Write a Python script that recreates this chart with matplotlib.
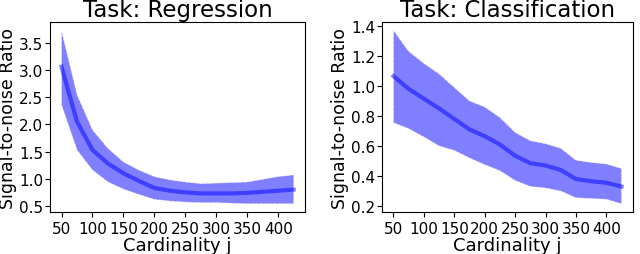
import matplotlib
matplotlib.use("Agg")
import matplotlib.pyplot as plt

# --------------------------------------------------
# data
# --------------------------------------------------
cardinality = [50, 75, 100, 125, 150, 175, 200, 225, 250, 275, 300, 325, 350, 375, 400, 425]

reg_mean = [3.06, 2.05, 1.53, 1.28, 1.10, 0.96, 0.83, 0.78, 0.75, 0.73, 0.73, 0.73, 0.74, 0.76, 0.78, 0.80]
reg_upper = [3.73, 2.55, 1.90, 1.56, 1.31, 1.16, 1.04, 0.98, 0.94, 0.91, 0.92, 0.93, 0.94, 0.99, 1.04, 1.07]
reg_lower = [2.36, 1.53, 1.16, 0.94, 0.81, 0.71, 0.62, 0.59, 0.57, 0.56, 0.56, 0.55, 0.54, 0.54, 0.54, 0.54]

cls_mean = [1.065, 0.98, 0.915, 0.85, 0.78, 0.71, 0.665, 0.61, 0.535, 0.485, 0.47, 0.44, 0.38, 0.365, 0.355, 0.33]
cls_upper = [1.37, 1.23, 1.15, 1.08, 0.99, 0.90, 0.86, 0.79, 0.69, 0.635, 0.615, 0.585, 0.505, 0.49, 0.48, 0.45]
cls_lower = [0.755, 0.715, 0.66, 0.60, 0.57, 0.52, 0.475, 0.435, 0.37, 0.33, 0.32, 0.30, 0.255, 0.25, 0.245, 0.215]

xticks = [50, 100, 150, 200, 250, 300, 350, 400]
reg_yticks = [0.5, 1.0, 1.5, 2.0, 2.5, 3.0, 3.5]
cls_yticks = [0.2, 0.4, 0.6, 0.8, 1.0, 1.2, 1.4]

panels = [
    ("Task: Regression", reg_mean, reg_lower, reg_upper, reg_yticks),
    ("Task: Classification", cls_mean, cls_lower, cls_upper, cls_yticks),
]

# --------------------------------------------------
# figure
# --------------------------------------------------
fig = plt.figure(figsize=(6.4, 2.55), dpi=100)

# axes boxes in figure fractions, plus y-label x position in axes fractions
rects = [[0.078, 0.163, 0.399, 0.748], [0.597, 0.163, 0.392, 0.748]]
ylabel_x = [-0.128, -0.132]

for rect, lx, (title, mean, lower, upper, yticks) in zip(rects, ylabel_x, panels):
    ax = fig.add_axes(rect)
    ax.fill_between(cardinality, lower, upper, color="blue", alpha=0.5,
                    edgecolor="white", linewidth=0.6, linestyle="--")
    ax.plot(cardinality, mean, color="blue", alpha=0.5, linewidth=3)
    ax.set_title(title, fontsize=16.5, pad=4)
    ax.set_xlabel("Cardinality j", fontsize=13, labelpad=0)
    ax.set_ylabel("Signal-to-noise Ratio", fontsize=12.5)
    ax.yaxis.set_label_coords(lx, 0.5)
    ax.set_xticks(xticks)
    ax.set_yticks(yticks)
    ax.tick_params(axis="x", labelsize=11, length=3.5, pad=2.5)
    ax.tick_params(axis="y", labelsize=11, length=3.5, pad=1.5)

fig.savefig("out.png", dpi=100)
